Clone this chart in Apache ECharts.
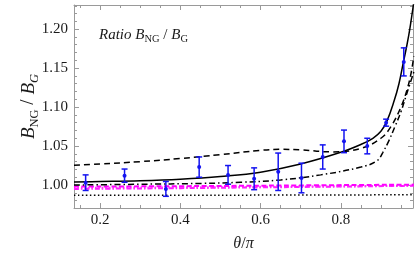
<!DOCTYPE html>
<html><head><meta charset="utf-8">
<script src="https://cdn.jsdelivr.net/npm/echarts@6/dist/echarts.min.js"></script>
<style>html,body{margin:0;padding:0;background:#fff}#c{width:419px;height:259px}</style>
</head><body><div id="c"></div>
<script>
// ---- data ----
const xMajor = [0.2, 0.4, 0.6, 0.8];
const yMajor = [1.00, 1.05, 1.10, 1.15, 1.20];
// error-bar measurements: theta/pi, ratio, error
const ptX   = [0.164, 0.261, 0.364, 0.447, 0.519, 0.584, 0.644, 0.702, 0.755, 0.808, 0.866, 0.913, 0.957];
const ptY   = [1.003, 1.012, 0.995, 1.023, 1.013, 1.008, 1.017, 1.009, 1.036, 1.056, 1.050, 1.080, 1.158];
const ptErr = [0.010, 0.0085, 0.0095, 0.013, 0.012, 0.014, 0.024, 0.019, 0.0155, 0.0145, 0.010, 0.0045, 0.018];
// solid curve
const solidX = [0.135,0.2,0.3,0.4,0.5,0.6,0.7,0.8,0.85,0.88,0.9,0.915,0.933,0.945,0.955,0.965,0.972,0.982];
const solidY = [1.004,1.0045,1.0055,1.0075,1.011,1.0165,1.027,1.042,1.052,1.060,1.069,1.082,1.108,1.13,1.155,1.18,1.20,1.235];
// dashed curve
const dashX = [0.135,0.2,0.3,0.4,0.5,0.6,0.65,0.7,0.78,0.85,0.9,0.925,0.95,0.965,0.975,0.982];
const dashY = [1.0255,1.027,1.030,1.034,1.039,1.0445,1.0458,1.045,1.0425,1.047,1.060,1.075,1.100,1.122,1.143,1.165];
// dash-dot curve
const ddX = [0.135,0.3,0.45,0.55,0.65,0.75,0.85,0.89,0.905,0.92,0.935,0.95,0.965,0.982];
const ddY = [1.000,1.001,1.002,1.0035,1.0065,1.013,1.023,1.031,1.042,1.057,1.075,1.094,1.118,1.145];
// dotted curve
const dotX = [0.135,0.5,0.982];
const dotY = [0.987,0.987,0.9875];
// magenta curves
const magX = [0.135,0.4,0.7,0.982];
const magDashY = [0.998,0.9985,0.9995,1.0005];
const magDDY   = [0.995,0.996,0.9975,0.999];
const magDotY  = [0.9965,0.997,0.998,0.999];

const X_MIN = 0.135, X_MAX = 0.98, Y_MIN = 0.9705, Y_MAX = 1.231;

// ---- build ----
function zip(a,b){return a.map((v,i)=>[v,b[i]]);}
function minors(lo,hi,step,majors){const r=[];for(let v=Math.ceil(lo/step-1e-9)*step;v<=hi+1e-9;v+=step){const w=+v.toFixed(4);if(!majors.some(m=>Math.abs(m-w)<1e-6))r.push(w);}return r;}
const xMinor = minors(X_MIN,X_MAX,0.05,xMajor);
const yMinor = minors(Y_MIN,Y_MAX,0.01,[0.95].concat(yMajor));
const yMajorAll = [0.95].concat(yMajor).filter(v=>v>=Y_MIN);

const FONT = '"Liberation Serif", "DejaVu Serif", serif';
const FRAME = '#9a9a9a';
const TXT = '#1a1a1a';

function xAx(pos, ticks, len, line, labels){
  return {type:'value', position:pos, min:X_MIN, max:X_MAX, gridIndex:0,
    axisLine:{show:line, onZero:false, lineStyle:{color:FRAME, width:1}},
    axisTick:{show:true, inside:true, length:len, customValues:ticks, lineStyle:{color:FRAME, width:1}},
    axisLabel:labels ? {show:true, customValues:xMajor, formatter:v=>v.toFixed(1), fontFamily:FONT, fontSize:15, color:TXT, margin:5} : {show:false},
    splitLine:{show:false}, minorTick:{show:false}};
}
function yAx(pos, ticks, len, line, labels){
  return {type:'value', position:pos, min:Y_MIN, max:Y_MAX, gridIndex:0,
    axisLine:{show:line, onZero:false, lineStyle:{color:FRAME, width:1}},
    axisTick:{show:true, inside:true, length:len, customValues:ticks, lineStyle:{color:FRAME, width:1}},
    axisLabel:labels ? {show:true, customValues:yMajor, formatter:v=>v.toFixed(2), fontFamily:FONT, fontSize:15, color:TXT, margin:6} : {show:false},
    splitLine:{show:false}, minorTick:{show:false}};
}
const xAxes = [xAx('bottom', xMajor, 5, true, true), xAx('bottom', xMinor, 3, false, false), xAx('top', xMajor, 5, true, false), xAx('top', xMinor, 3, false, false)];
const yAxes = [yAx('left', yMajorAll, 5, true, true), yAx('left', yMinor, 3, false, false), yAx('right', yMajorAll, 5, true, false), yAx('right', yMinor, 3, false, false)];
function rs(size, italic, extra){return Object.assign({fontFamily:FONT,fontSize:size,fontStyle:italic?'italic':'normal',fontWeight:'normal',color:TXT}, extra||{});}
xAxes[0].name = '{i|θ}{r|/}{i|π}';
xAxes[0].nameLocation = 'middle';
xAxes[0].nameGap = 28;
xAxes[0].nameTextStyle = {fontFamily:FONT, fontSize:15, color:TXT, rich:{i:rs(16,true), r:rs(16,false)}};
const vb = {lineHeight:22, verticalAlign:'bottom'};
const vs = {lineHeight:22, verticalAlign:'bottom', padding:[0,0,-3,0]};
yAxes[0].name = '{b|B}{s|NG}{r| / }{b|B}{si|G}';
yAxes[0].nameLocation = 'middle';
yAxes[0].nameGap = 36;
yAxes[0].nameMoveOverlap = false;
yAxes[0].nameTextStyle = {fontFamily:FONT, fontSize:19, color:TXT, rich:{
  b:rs(19,true,vb), r:rs(19,false,vb), s:rs(12.5,false,vs), si:rs(12.5,true,vs)}};

function line(xs, ys, color, type, width, z){
  return {type:'line', xAxisIndex:0, yAxisIndex:0, data:zip(xs,ys), showSymbol:false, symbol:'none',
    smooth:0.4, clip:true, z:z||2,
    lineStyle:{color:color, width:width, type:type, cap:'butt'}, animation:false};
}
const BLUE = '#1414f0';
const errData = ptX.map((x,i)=>[x, ptY[i], ptErr[i]]);
const tb = {lineHeight:18, verticalAlign:'bottom'};
const ts = {lineHeight:18, verticalAlign:'bottom', padding:[0,0,-2,0]};

const option = {
  animation:false,
  grid:{left:74, right:6, top:5, bottom:51, containLabel:false},
  title:{text:'{i|Ratio }{b|B}{s|NG}{r| / }{b|B}{s|G}', left:94, top:20,
    textStyle:{fontFamily:FONT, fontSize:15, fontWeight:'normal', color:TXT, rich:{
      i:rs(15,true,tb), b:rs(15,true,tb), r:rs(15,false,tb), s:rs(10.5,false,ts)}}},
  xAxis:xAxes, yAxis:yAxes,
  series:[
    line(dotX, dotY, '#000', [1.5,2.5], 1.5),
    line(magX, magDDY, '#ff1aff', [5,2,1.5,2], 2),
    line(magX, magDotY, '#ff33ff', [1.5,2], 2),
    line(magX, magDashY, '#ff00ff', [5,2.5], 2),
    line(ddX, ddY, '#000', [6,3,1.5,3], 1.5),
    line(dashX, dashY, '#000', [6,4], 1.5),
    line(solidX, solidY, '#000', 'solid', 1.5),
    {type:'custom', xAxisIndex:0, yAxisIndex:0, data:errData, z:5, clip:true,
     renderItem:function(params, api){
       const x=api.value(0), y=api.value(1), e=api.value(2);
       const top=api.coord([x,y+e]), bot=api.coord([x,y-e]), c=api.coord([x,y]);
       const w=3;
       const st={stroke:BLUE, lineWidth:1.5};
       return {type:'group', children:[
         {type:'line', shape:{x1:top[0],y1:top[1],x2:bot[0],y2:bot[1]}, style:st},
         {type:'line', shape:{x1:top[0]-w,y1:top[1],x2:top[0]+w,y2:top[1]}, style:st},
         {type:'line', shape:{x1:bot[0]-w,y1:bot[1],x2:bot[0]+w,y2:bot[1]}, style:st},
         {type:'circle', shape:{cx:c[0],cy:c[1],r:2}, style:{fill:BLUE}}
       ]};
     }, animation:false}
  ]
};
const chart = echarts.init(document.getElementById('c'), null, {renderer:'canvas'});
chart.setOption(option);
</script></body></html>
